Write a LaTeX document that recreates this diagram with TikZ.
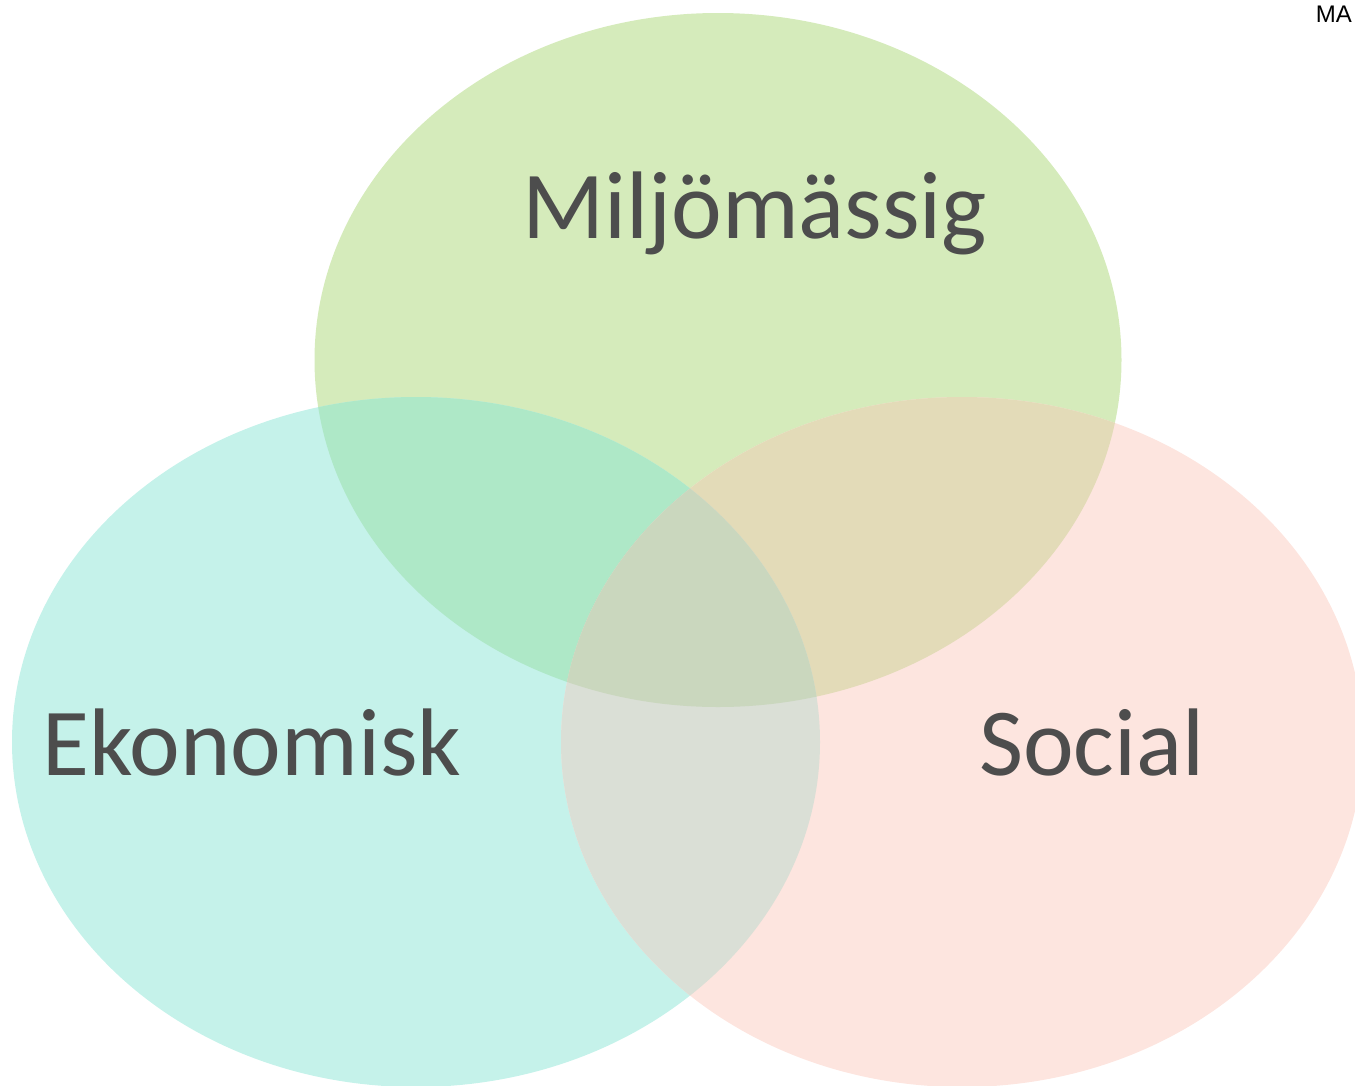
\documentclass[tikz,border=0pt]{standalone}
\usepackage{fontspec}
\setmainfont{Carlito}
\newfontfamily\mafont{Liberation Sans}
\definecolor{cG}{HTML}{D5EBBB}
\definecolor{cT}{HTML}{C5F2EA}
\definecolor{cP}{HTML}{FDE5DF}
\definecolor{cGT}{HTML}{AEE8C7}
\definecolor{cGP}{HTML}{E3DBB8}
\definecolor{cTP}{HTML}{DADFD6}
\definecolor{cGTP}{HTML}{CAD7BE}
\definecolor{txt}{HTML}{4D4D4D}
\begin{document}
\begin{tikzpicture}[x=1pt,y=-1pt,
  lbl/.style={font=\fontsize{96}{100}\selectfont, text=txt, anchor=base, inner sep=0pt},
  ]
\useasboundingbox (0,0) rectangle (1355,1085);
\clip (0,0) rectangle (1355,1085);
\def\G{(718,360) ellipse [x radius=403.5, y radius=347]}
\def\T{(416,742) ellipse [x radius=404, y radius=345]}
\def\P{(962,742) ellipse [x radius=401, y radius=345]}
\fill[cG] \G;
\fill[cT] \T;
\fill[cP] \P;
\begin{scope}\clip \G; \fill[cGT] \T; \fill[cGP] \P; \end{scope}
\begin{scope}\clip \T; \fill[cTP] \P; \end{scope}
\begin{scope}\clip \G; \clip \T; \fill[cGTP] \P; \end{scope}
\node[lbl] (mil) at (755,238) {Miljömässig};
\node[lbl] (eko) at (252,775) {Ekonomisk};
\node[lbl] (soc) at (1092,775) {Social};
\node[font=\mafont\fontsize{24}{26}\selectfont, anchor=base east, inner sep=0pt] (ma) at (1352,22) {MA};
\end{tikzpicture}
\end{document}
